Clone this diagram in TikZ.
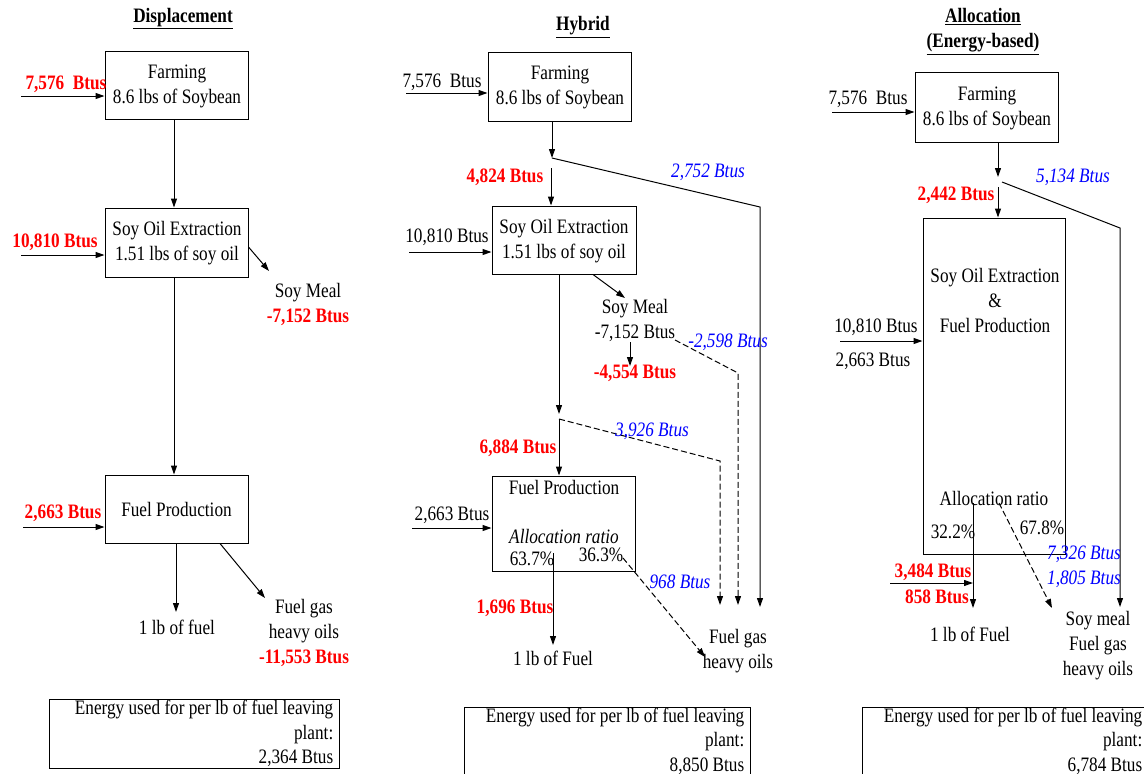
\documentclass[tikz,border=0pt]{standalone}
\usepackage{fontspec}
\setmainfont{Liberation Serif}[FakeStretch=0.84]
\usetikzlibrary{arrows.meta}
\newcommand\fs{\fontsize{20.5}{25}\selectfont}
\definecolor{rd}{RGB}{255,0,0}
\definecolor{bl}{RGB}{0,0,255}
\tikzset{
 every node/.style={font=\fs, inner sep=0pt},
 box/.style={draw, line width=1pt, align=center},
 lbl/.style={align=center},
 redl/.style={text=rd, font=\fs\bfseries, align=center},
 bluel/.style={text=bl, font=\fs\itshape, align=center},
 arr/.style={line width=1pt, -{Triangle[length=9pt,width=6pt]}},
 dline/.style={line width=1pt, dash pattern=on 6pt off 3pt},
 dlarr/.style={dline, -{Triangle[length=9pt,width=6pt]}},
 sumbox/.style={draw, line width=1pt},
 sumtxt/.style={align=right, anchor=east, font=\fontsize{20.5}{24.5}\selectfont},
 ttl/.style={font=\fs\bfseries, align=center}
}
\begin{document}
\begin{tikzpicture}[x=1pt,y=-1pt]
\useasboundingbox (0,0) rectangle (1144,774);
\clip (0,0) rectangle (1144,774);

% ================= Displacement =================
\node[ttl] (tA) at (183,19) {\underline{Displacement}};
\node[box, minimum width=143pt, minimum height=68pt] (farmA) at (176.5,85) {};
\node[lbl] (farmAt) at (177,86.5) {Farming\\8.6 lbs of Soybean};
\node[box, minimum width=143pt, minimum height=69pt] (soeA) at (176.5,242.5) {};
\node[lbl] (soeAt) at (177,243.5) {Soy Oil Extraction\\1.51 lbs of soy oil};
\node[box, minimum width=143pt, minimum height=68pt] (fpA) at (176.5,509) {Fuel Production};

\coordinate (inA1) at (21,96);
\draw[arr] (inA1) -- (inA1 -| farmA.west);
\node[redl] (lA1) at (66,84) {7,576\ \ Btus};
\draw[arr] ([xshift=-2.5pt]farmA.south) -- ([xshift=-2.5pt]soeA.north);

\coordinate (inA2) at (21,255);
\draw[arr] (inA2) -- (inA2 -| soeA.west);
\node[redl] (lA2) at (55,242) {10,810 Btus};

\coordinate (smA) at (269,271);
\draw[arr] ([yshift=-4.5pt]soeA.east) -- (smA);
\node[lbl] (smAl) at (308,304.5) {Soy Meal\\{\color{rd}\bfseries -7,152 Btus}};

\draw[arr] ([xshift=-2.5pt]soeA.south) -- ([xshift=-2.5pt]fpA.north);
\coordinate (inA3) at (23,527);
\draw[arr] (inA3) -- (inA3 -| fpA.west);
\node[redl] (lA3) at (63,513) {2,663 Btus};

\coordinate (fuelA) at (176,612);
\draw[arr] (fpA.south -| fuelA) -- (fuelA);
\node[lbl] (fuelAl) at (177,627) {1 lb of fuel};
\coordinate (gasA) at (265,598);
\draw[arr] ([xshift=43.5pt]fpA.south) -- (gasA);
\node[lbl] (gasAl) at (304,633) {Fuel gas\\heavy oils\\{\color{rd}\bfseries -11,553 Btus}};

\node[sumbox, minimum width=290pt, minimum height=69pt] (sumA) at (194,733.5) {};
\node[sumtxt] (sumAt) at ([xshift=-6pt]sumA.east) {Energy used for per lb of fuel leaving\\plant:\\2,364 Btus};

% ================= Hybrid =================
\node[ttl] (tB) at (583,27) {\underline{Hybrid}};
\node[box, minimum width=143pt, minimum height=69pt] (farmB) at (559.5,86.5) {};
\node[lbl] (farmBt) at (560,87) {Farming\\8.6 lbs of Soybean};
\node[box, minimum width=144pt, minimum height=68pt] (soeB) at (564,240) {};
\node[lbl] (soeBt) at (564,241.5) {Soy Oil Extraction\\1.51 lbs of soy oil};
\node[box, minimum width=143pt, minimum height=95pt] (fpB) at (563.5,523.5) {};

\coordinate (inB1) at (406,93);
\draw[arr] (inB1) -- (inB1 -| farmB.west);
\node[lbl] (lB1) at (442,82) {7,576\ \ Btus};

\coordinate (splitB) at (552,158);
\draw[arr] (farmB.south -| splitB) -- (splitB);
\coordinate (cB1) at (760,207);
\coordinate (endB3) at (760,607);
\draw[arr] (splitB) -- (cB1) -- (endB3);
\node[bluel] (lB2752) at (708,172) {2,752 Btus};

\coordinate (stB) at (551,168);
\draw[arr] (stB) -- (stB |- soeB.north);
\node[redl] (lB4824) at (505,177) {4,824 Btus};

\coordinate (inB2) at (409,252);
\draw[arr] (inB2) -- (inB2 -| soeB.west);
\node[lbl] (lB2) at (447,237) {10,810 Btus};

\coordinate (smB) at (625,298);
\draw[arr] ([xshift=29pt]soeB.south) -- (smB);
\node[lbl] (smBl) at (635,320.5) {Soy Meal\\-7,152 Btus};
\coordinate (smB1) at (630,342);
\coordinate (smB2) at (630,366);
\draw[arr] (smB1) -- (smB2);
\node[redl] (lB4554) at (635,373) {-4,554 Btus};

\coordinate (dB1) at (675,340);
\coordinate (dB1c) at (738,373);
\coordinate (endB2) at (738,605);
\draw[dlarr] (dB1) -- (dB1c) -- (endB2);
\node[bluel] (lB2598) at (728,342) {-2,598 Btus};

\coordinate (splitB2) at (559,414);
\draw[arr] (soeB.south -| splitB2) -- (splitB2);
\coordinate (dB2) at (559,419);
\coordinate (dB2c) at (720,461);
\coordinate (endB1) at (720,605);
\draw[dlarr] (dB2) -- (dB2c) -- (endB1);
\node[bluel] (lB3926) at (652,431) {3,926 Btus};
\draw[arr] (dB2) -- (dB2 |- fpB.north);
\node[redl] (lB6884) at (518,448) {6,884 Btus};

\node[lbl] (fpBt) at (564,487) {Fuel Production};
\node[lbl, font=\fs\itshape] (arB) at (564,536) {Allocation ratio};
\node[lbl] (pB1) at (532,559) {63.7\%};
\node[lbl] (pB2) at (601,555) {36.3\%};

\coordinate (inB3) at (412,528);
\draw[arr] (inB3) -- (inB3 -| fpB.west);
\node[lbl] (lB3) at (452,515) {2,663 Btus};

\coordinate (fB1) at (553,553);
\coordinate (fuelB) at (553,645);
\draw[arr] (fB1) -- (fuelB);
\node[redl] (lB1696) at (515,608) {1,696 Btus};
\node[lbl] (fuelBl) at (553,658) {1 lb of Fuel};

\coordinate (gB1) at (623,558);
\coordinate (gasB) at (705,657);
\draw[dlarr] (gB1) -- (gasB);
\node[bluel] (lB968) at (680,582) {968 Btus};
\node[lbl] (gasBl) at (738,651.5) {Fuel gas\\heavy oils};

\node[sumbox, minimum width=286pt, minimum height=68pt] (sumB) at (607,741) {};
\node[sumtxt] (sumBt) at ([xshift=-6pt]sumB.east) {Energy used for per lb of fuel leaving\\plant:\\8,850 Btus};

% ================= Allocation =================
\node[ttl] (tC) at (983,31.5) {\underline{Allocation}\\\underline{(Energy-based)}};
\node[box, minimum width=143pt, minimum height=70pt] (farmC) at (986.5,107) {};
\node[lbl] (farmCt) at (987,108.5) {Farming\\8.6 lbs of Soybean};
\node[box, minimum width=142pt, minimum height=336pt] (bigC) at (994,386) {};
\node[lbl] (bigCt) at (995,300) {Soy Oil Extraction\\\&\\Fuel Production};

\coordinate (inC1) at (832,112);
\draw[arr] (inC1) -- (inC1 -| farmC.west);
\node[lbl] (lC1) at (868,99) {7,576\ \ Btus};

\coordinate (splitC) at (998,177);
\draw[arr] (farmC.south -| splitC) -- (splitC);
\coordinate (dC0) at (1002,182);
\coordinate (cC1) at (1120,228);
\coordinate (endC2) at (1120,607);
\draw[arr] (dC0) -- (cC1) -- (endC2);
\node[bluel] (lC5134) at (1073,177) {5,134 Btus};

\coordinate (stC) at (998,187);
\draw[arr] (stC) -- (stC |- bigC.north);
\node[redl] (lC2442) at (956,195) {2,442 Btus};

\coordinate (inC2) at (840,341);
\draw[arr] (inC2) -- (inC2 -| bigC.west);
\node[lbl] (lC2) at (876,327) {10,810 Btus};
\node[lbl] (lC3) at (873,361) {2,663 Btus};

\node[lbl] (arC) at (994,498) {Allocation ratio};
\node[lbl] (pC1) at (953,532) {32.2\%};
\node[lbl] (pC2) at (1042,528) {67.8\%};

\coordinate (fC1) at (973,503);
\coordinate (fuelC) at (973,608);
\draw[arr] (fC1) -- (fuelC);
\coordinate (inC3) at (890,583);
\draw[arr] (inC3) -- (inC3 -| fuelC);
\node[redl] (lC3484) at (933,572) {3,484 Btus};
\node[redl] (lC858) at (937,597) {858 Btus};

\coordinate (gC1) at (999,503);
\coordinate (gasC) at (1052,608);
\draw[dlarr] (gC1) -- (gasC);
\node[bluel] (lC7326) at (1084,567) {7,326 Btus\\1,805 Btus};

\node[lbl] (fuelCl) at (970,634) {1 lb of Fuel};
\node[lbl] (gasCl) at (1098,646) {Soy meal\\Fuel gas\\heavy oils};

\node[sumbox, minimum width=286pt, minimum height=68pt] (sumC) at (1005,741) {};
\node[sumtxt] (sumCt) at ([xshift=-6pt]sumC.east) {Energy used for per lb of fuel leaving\\plant:\\6,784 Btus};
\end{tikzpicture}
\end{document}
